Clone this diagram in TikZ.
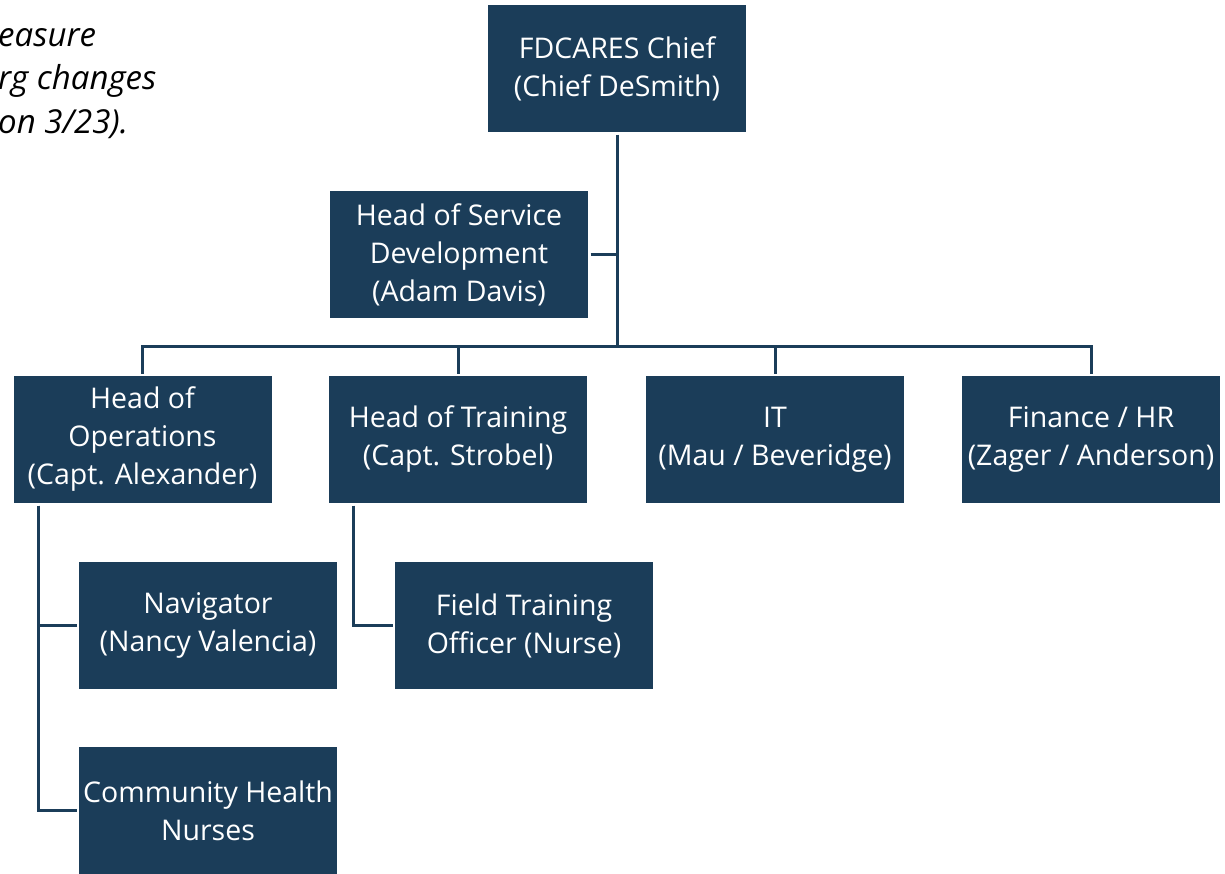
\documentclass[tikz,border=0pt]{standalone}
\usepackage{fontspec}
\setmainfont{Open Sans}
\usetikzlibrary{positioning}
\definecolor{orgblue}{HTML}{1B3D59}
\tikzset{
  role/.style={fill=orgblue, text=white, minimum width=258pt, minimum height=127pt,
    inner sep=0pt, outer sep=2.5pt, align=center, font=\fontsize{28.5}{38}\selectfont},
  link/.style={draw=orgblue, line width=3pt}
}
\begin{document}
\begin{tikzpicture}[x=1pt, y=-1pt]
    \useasboundingbox (0,0) rectangle (1225,873);
    \clip (0,0) rectangle (1225,873);
    \node (note) [anchor=north west, align=left, inner sep=0pt,
      font=\fontsize{33}{43.5}\itshape\selectfont] at (-2,28) {easure\\rg changes\\on 3/23).};
    \node (chief) [role] at (617,68.5) {FDCARES Chief\\(Chief DeSmith)};
    \node (sdev) [role] at (459,254.5) {Head of Service\\Development\\(Adam Davis)};
    \node (ops) [role] at (142.5,439.5) {Head of\\Operations\\(Capt. Alexander)};
    \node (train) [role] at (458,439.5) {Head of Training\\(Capt. Strobel)};
    \node (it) [role] at (775,439.5) {IT\\(Mau / Beveridge)};
    \node (fin) [role] at (1091,439.5) {Finance / HR\\(Zager / Anderson)};
    \node (nav) [role] at (208,625.5) {Navigator\\(Nancy Valencia)};
    \node (chn) [role] at (208,810.5) {Community Health\\Nurses};
    \node (fto) [role] at (524,625.5) {Field Training\\Officer (Nurse)};
    \coordinate (bus) at (617,346);
    \draw[link] (chief) -- (bus);
    \draw[link] (sdev.east) -- (sdev.east -| chief);
    \draw[link] (bus) -| (ops);
    \draw[link] (bus) -| (train);
    \draw[link] (bus) -| (it);
    \draw[link] (bus) -| (fin);
    \draw[link] ([xshift=27.5pt]ops.south west) |- (nav.west);
    \draw[link] ([xshift=27.5pt]ops.south west) |- (chn.west);
    \draw[link] ([xshift=26.5pt]train.south west) |- (fto.west);
  \end{tikzpicture}
\end{document}
